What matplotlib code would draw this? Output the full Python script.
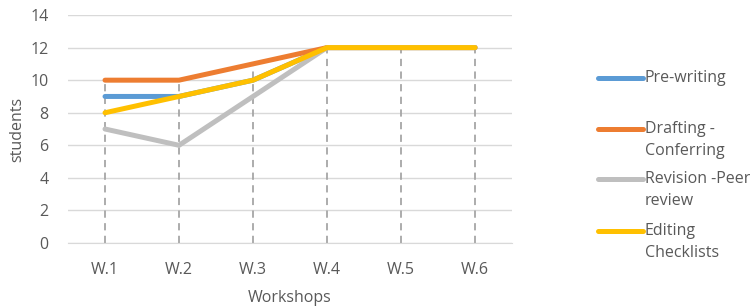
import numpy as np
import matplotlib.pyplot as plt
from matplotlib.lines import Line2D

plt.rcParams['font.family'] = ['Open Sans', 'DejaVu Sans']

# data
workshops = ['W.1', 'W.2', 'W.3', 'W.4', 'W.5', 'W.6']
pre_writing = [9, 9, 10, 12, 12, 12]
drafting = [10, 10, 11, 12, 12, 12]
revision = [7, 6, 9, 12, 12, 12]
editing = [8, 9, 10, 12, 12, 12]

series = [
    ('Pre-writing', pre_writing, '#5B9BD5'),
    ('Drafting -\nConferring', drafting, '#ED7D31'),
    ('Revision -Peer\nreview', revision, '#BFBFBF'),
    ('Editing\nChecklists', editing, '#FFC000'),
]

txt = '#595959'
fs = 11.5
fig = plt.figure(figsize=(7.5, 3.07), dpi=100)
ax = fig.add_axes([0.0907, 0.2085, 0.592, 0.7425])

x = np.arange(len(workshops))

# drop lines from the highest point down to the axis
tops = np.max([s[1] for s in series], axis=0)
ax.vlines(x, 0, tops, colors='#A6A6A6', linestyles=(0, (4, 3)), linewidth=1.3, zorder=1)

for name, vals, col in series:
    ax.plot(x, vals, color=col, linewidth=3.6, solid_capstyle='round',
            solid_joinstyle='round', zorder=2)

ax.set_xlim(-0.5, len(workshops) - 0.5)
ax.set_ylim(0, 14)
ax.set_yticks(range(0, 15, 2))
ax.set_xticks(x)
ax.set_xticklabels(workshops)
ax.grid(axis='y', color='#D9D9D9', linewidth=1)
ax.set_axisbelow(True)
for s in ['top', 'right', 'left']:
    ax.spines[s].set_visible(False)
ax.spines['bottom'].set_color('#D9D9D9')
ax.tick_params(length=0, labelsize=fs, colors=txt, pad=14)
ax.tick_params(axis='y', pad=14)
ax.set_xlabel('Workshops', fontsize=fs, color=txt, labelpad=8)
ax.set_ylabel('students', fontsize=fs, color=txt, labelpad=4)

# legend on the right
ys = [78, 129, 179, 231]
for (name, vals, col), yp in zip(series, ys):
    yf = 1 - yp / 307
    fig.add_artist(Line2D([598 / 750, 643 / 750], [yf, yf], color=col,
                          linewidth=3.6, solid_capstyle='round',
                          transform=fig.transFigure))
    fig.text(645 / 750, yf + 0.026, name, fontsize=fs, color=txt,
             va='top', ha='left', linespacing=1.5)

fig.savefig('out.png', dpi=100)
